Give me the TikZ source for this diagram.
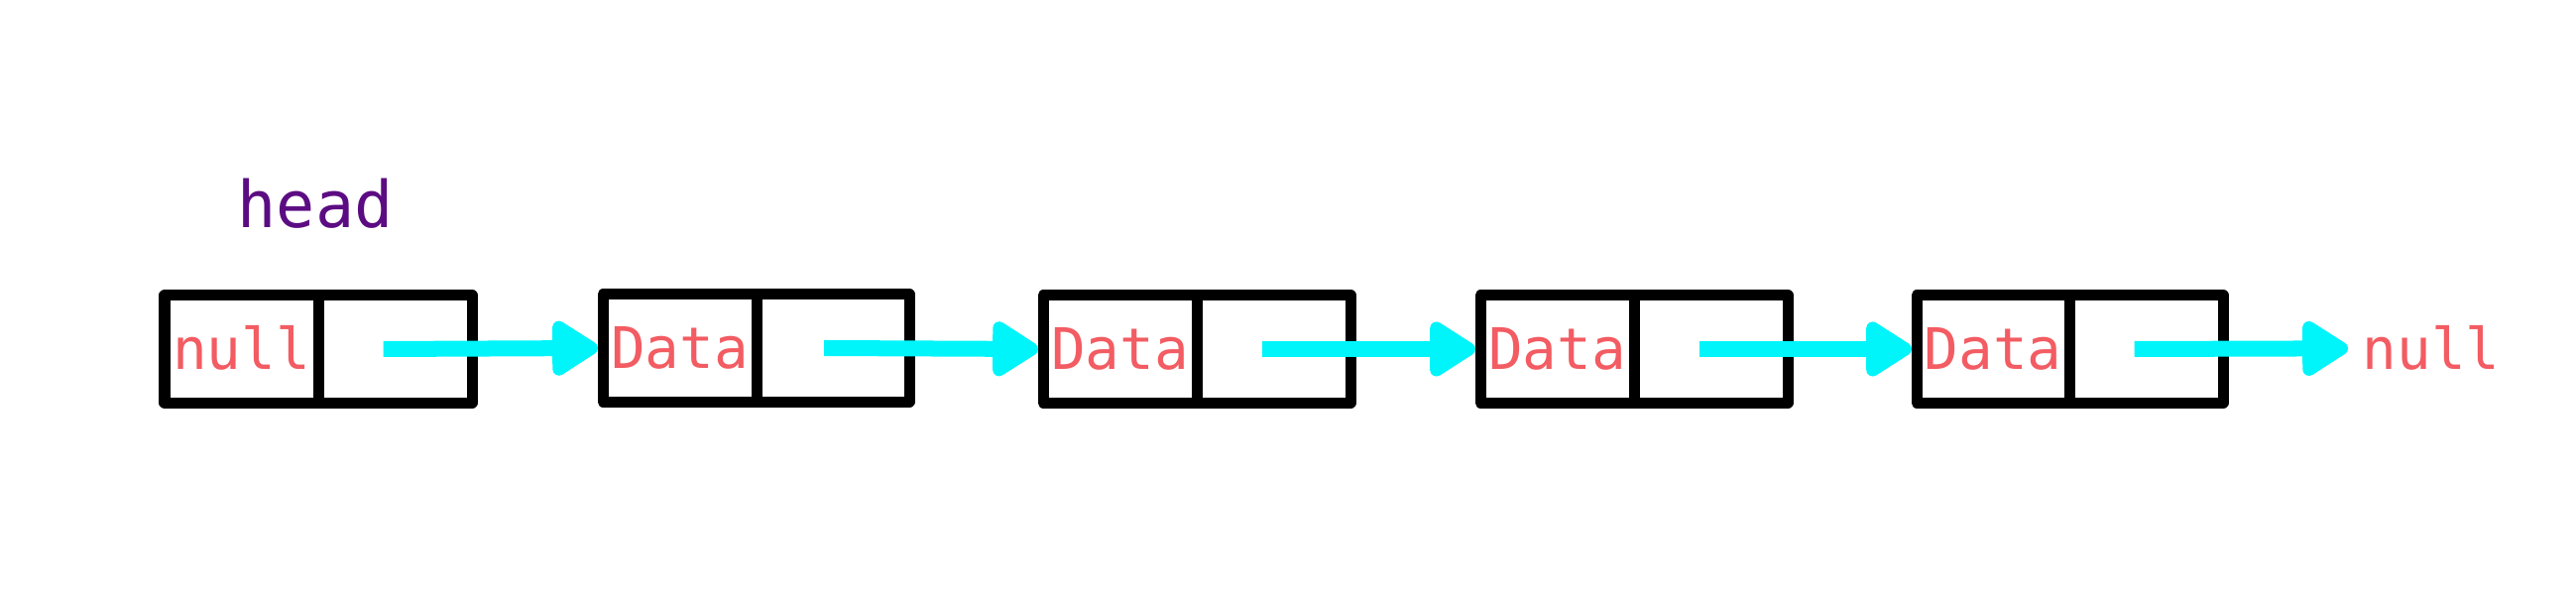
\documentclass[tikz,border=0pt]{standalone}
\usepackage{fontspec}
\newfontfamily\monofont{DejaVu Sans Mono}
\usetikzlibrary{arrows.meta,calc}
\definecolor{txtred}{RGB}{242,92,98}
\definecolor{headpurple}{RGB}{92,12,130}
\definecolor{arrcyan}{RGB}{0,245,250}
\tikzset{
  cell/.style={draw=black, line width=0.11cm, line join=round, minimum height=1.08cm, inner sep=0pt, outer sep=0pt, anchor=west},
  datacell/.style={cell, minimum width=1.55cm, text=txtred, font=\monofont\fontsize{16.4}{16.4}\selectfont, text height=0.40cm, text depth=0cm},
  ptrcell/.style={cell, minimum width=1.55cm},
  link/.style={draw=arrcyan, line width=0.16cm, -{Triangle[length=0.52cm,width=0.62cm,round,line width=4pt]}, color=arrcyan},
  labeltxt/.style={inner sep=0pt, anchor=base west}
}
\begin{document}
\begin{tikzpicture}[x=0.01cm,y=-0.01cm]
\useasboundingbox (0,0) rectangle (2598,601);
% nodes: data cells and pointer cells
\node[datacell] (d1) at (166,352) {null};
\node[ptrcell] (p1) at (321,352) {};
\node[datacell] (d2) at (608,351) {Data};
\node[ptrcell, minimum width=1.54cm] (p2) at (763,351) {};
\node[datacell] (d3) at (1052,352) {Data};
\node[ptrcell] (p3) at (1207,352) {};
\node[datacell] (d4) at (1493,352) {Data};
\node[ptrcell] (p4) at (1648,352) {};
\node[datacell, minimum width=1.54cm] (d5) at (1933,352) {Data};
\node[ptrcell] (p5) at (2087,352) {};
% labels
\node[labeltxt, text=headpurple, font=\monofont\fontsize{18.5}{18.5}\selectfont] (head) at (239,230) {head};
\node[labeltxt, text=txtred, font=\monofont\fontsize{16.4}{16.4}\selectfont] (nullend) at (2382,373) {null};
% links
\draw[link] ([xshift=-0.12cm]p1.center) -- ([xshift=-0.05cm]d2.west);
\draw[link] ([xshift=-0.09cm]p2.center) -- ([xshift=-0.05cm]d3.west);
\draw[link] ([xshift=-0.12cm]p3.center) -- ([xshift=-0.05cm]d4.west);
\draw[link] ([xshift=-0.12cm]p4.center) -- ([xshift=-0.05cm]d5.west);
\draw[link] ([xshift=-0.12cm]p5.center) -- ([xshift=-0.14cm]nullend.west);
\end{tikzpicture}
\end{document}
